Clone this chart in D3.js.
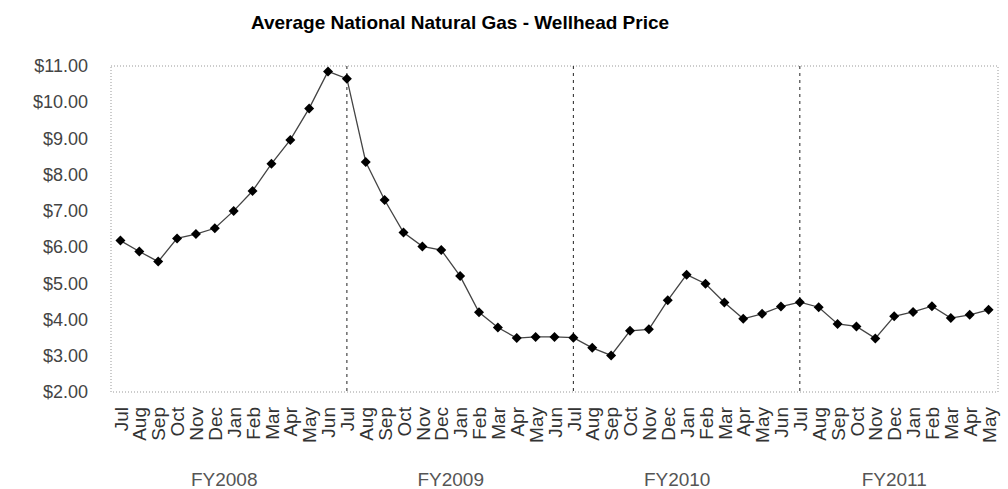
<!DOCTYPE html>
<html>
<head>
<meta charset="utf-8">
<title>Average National Natural Gas - Wellhead Price</title>
<style>
    body { margin: 0; background: #fff; }
    svg { font-family: "Liberation Sans", Arial, sans-serif; }
</style>
</head>
<body>
<svg width="1008" height="489"></svg>
<script src="https://d3js.org/d3.v7.min.js"></script>
<script>

    // months Jul 2007 .. May 2011
    var months = ["Jul","Aug","Sep","Oct","Nov","Dec","Jan","Feb","Mar","Apr","May","Jun",
                  "Jul","Aug","Sep","Oct","Nov","Dec","Jan","Feb","Mar","Apr","May","Jun",
                  "Jul","Aug","Sep","Oct","Nov","Dec","Jan","Feb","Mar","Apr","May","Jun",
                  "Jul","Aug","Sep","Oct","Nov","Dec","Jan","Feb","Mar","Apr","May"];

    var prices = [6.18, 5.88, 5.60, 6.24, 6.36, 6.52, 7.00, 7.55, 8.30, 8.96, 9.83, 10.85,
                  10.65, 8.35, 7.30, 6.40, 6.02, 5.92, 5.20, 4.20, 3.78, 3.49, 3.52, 3.52,
                  3.50, 3.22, 3.01, 3.69, 3.73, 4.53, 5.24, 4.99, 4.47, 4.02, 4.16, 4.36,
                  4.48, 4.34, 3.88, 3.81, 3.48, 4.09, 4.21, 4.37, 4.04, 4.13, 4.27];

    var fiscalYears = ["FY2008", "FY2009", "FY2010", "FY2011"];
    var fyStart = [0, 12, 24, 36];
    var fyEnd = [11, 23, 35, 46];

    var yTicks = [2, 3, 4, 5, 6, 7, 8, 9, 10, 11];

    var svg = d3.select("svg");
    var plotLeft = 111, plotRight = 998, plotTop = 66, plotBottom = 392;

    var x = d3.scalePoint()
        .domain(d3.range(months.length))
        .range([plotLeft, plotRight])
        .padding(0.5);

    var y = d3.scaleLinear()
        .domain([2, 11])
        .range([plotBottom, plotTop]);

    // title
    svg.append("text")
        .attr("x", 460)
        .attr("y", 29)
        .attr("text-anchor", "middle")
        .style("font-weight", "bold")
        .style("font-size", "19px")
        .text("Average National Natural Gas - Wellhead Price");

    // plot border (dotted)
    svg.append("rect")
        .attr("x", plotLeft)
        .attr("y", plotTop)
        .attr("width", plotRight - plotLeft)
        .attr("height", plotBottom - plotTop)
        .attr("fill", "none")
        .attr("stroke", "#999")
        .attr("stroke-width", 1)
        .attr("stroke-dasharray", "1,2");

    // y axis
    var yAxis = d3.axisLeft(y)
        .tickValues(yTicks)
        .tickSize(0)
        .tickPadding(23)
        .tickFormat(d3.format("$.2f"));

    var gy = svg.append("g")
        .attr("transform", "translate(" + plotLeft + ",0)")
        .call(yAxis);
    gy.select(".domain").remove();
    gy.selectAll("text")
        .style("font-size", "18px")
        .style("font-family", "'Liberation Sans', Arial, sans-serif")
        .attr("fill", "#444");

    // x axis, rotated month labels
    var xAxis = d3.axisBottom(x)
        .tickSize(0)
        .tickFormat(function(i) { return months[i]; });

    var gx = svg.append("g")
        .attr("transform", "translate(0," + plotBottom + ")")
        .call(xAxis);
    gx.select(".domain").remove();
    gx.selectAll("text")
        .style("font-size", "19px")
        .style("font-family", "'Liberation Sans', Arial, sans-serif")
        .attr("fill", "#333")
        .attr("text-anchor", "end")
        .attr("transform", "rotate(-90)")
        .attr("x", -15)
        .attr("y", 0)
        .attr("dy", "0.35em");

    // fiscal year separators
    svg.selectAll(".sep")
        .data(fyStart.slice(1))
        .enter().append("line")
        .attr("class", "sep")
        .attr("x1", function(d) { return x(d); })
        .attr("x2", function(d) { return x(d); })
        .attr("y1", plotTop)
        .attr("y2", plotBottom)
        .attr("stroke", "#222")
        .attr("stroke-width", 1)
        .attr("stroke-dasharray", "3,4");

    // fiscal year labels
    svg.selectAll(".fy")
        .data(fiscalYears)
        .enter().append("text")
        .attr("class", "fy")
        .attr("x", function(d, i) { return (x(fyStart[i]) + x(fyEnd[i])) / 2; })
        .attr("y", 486)
        .attr("text-anchor", "middle")
        .attr("fill", "#555")
        .style("font-size", "19px")
        .text(function(d) { return d; });

    // price line
    var line = d3.line()
        .x(function(d, i) { return x(i); })
        .y(function(d) { return y(d); });

    svg.append("path")
        .datum(prices)
        .attr("fill", "none")
        .attr("stroke", "#444")
        .attr("stroke-width", 1.3)
        .attr("d", line);

    // diamond markers
    svg.selectAll(".pt")
        .data(prices)
        .enter().append("path")
        .attr("class", "pt")
        .attr("d", d3.symbol(d3.symbolSquare, 50))
        .attr("transform", function(d, i) { return "translate(" + x(i) + "," + y(d) + ") rotate(45)"; })
        .attr("fill", "#000");

</script>
</body>
</html>
